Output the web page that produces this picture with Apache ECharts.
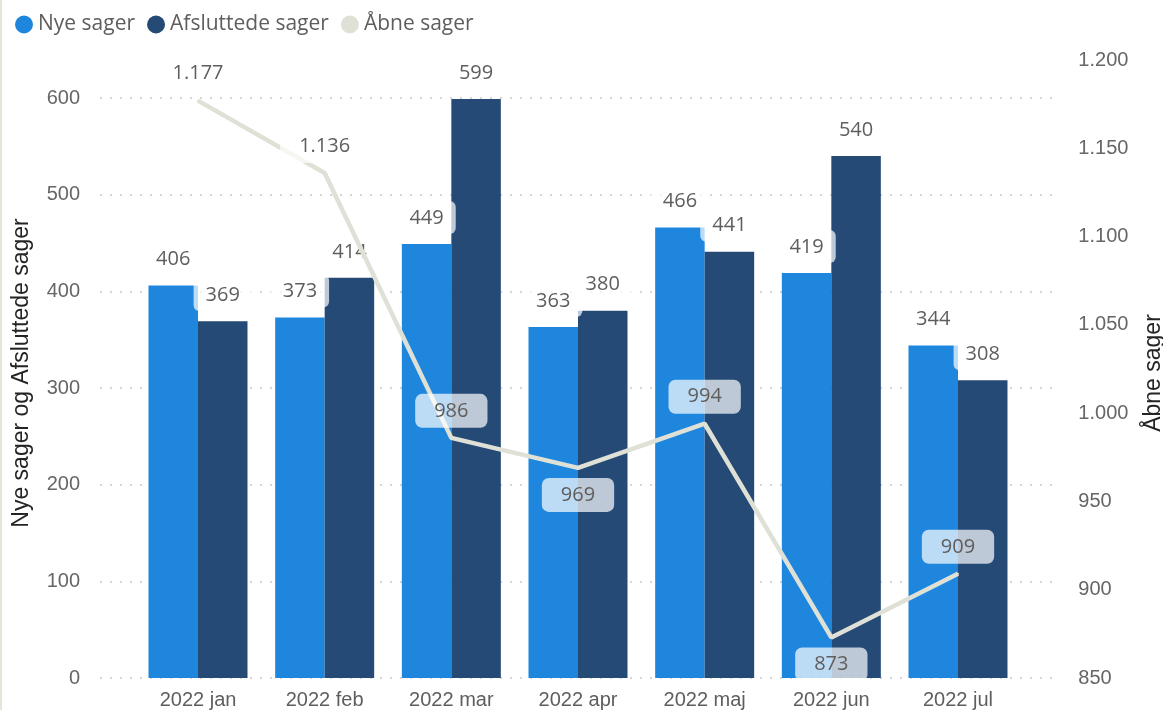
<!DOCTYPE html>
<html>
<head>
<meta charset="utf-8">
<script src="https://cdn.jsdelivr.net/npm/echarts@6/dist/echarts.min.js"></script>
<style>
html,body{margin:0;padding:0;background:#fff;}
#chart{width:1163px;height:710px;}
</style>
</head>
<body>
<div id="chart"></div>
<script>
// ---- data ----
var categories = ['2022 jan', '2022 feb', '2022 mar', '2022 apr', '2022 maj', '2022 jun', '2022 jul'];
var nyeSager = [406, 373, 449, 363, 466, 419, 344];
var afsluttedeSager = [369, 414, 599, 380, 441, 540, 308];
var aabneSager = [1177, 1136, 986, 969, 994, 873, 909];
var leftTicks = { min: 0, max: 600, interval: 100 };
var rightTicks = { min: 850, max: 1200, interval: 50 };

// label placement for the line (style, not data)
var lineLabelPlacement = ['top', 'top', 'top', 'bottom', 'top', 'bottom', 'top'];

function fmt(v) {
  return String(v).replace(/\B(?=(\d{3})+(?!\d))/g, '.');
}

var cNye = '#1E86DD';
var cAfs = '#244A75';
var cAab = '#DFE1D6';
var labelFont = '"Open Sans", "Noto Sans", sans-serif';
var axisFont = '"Liberation Sans", Arial, sans-serif';

var chart = echarts.init(document.getElementById('chart'), null, { renderer: 'canvas' });

var barLabel = {
  show: true,
  position: 'top',
  distance: 10,
  fontFamily: labelFont,
  fontSize: 20,
  lineHeight: 22,
  color: '#605E5C',
  backgroundColor: 'rgba(255,255,255,0.7)',
  borderRadius: 6,
  padding: [6, 12, 5, 12],
  formatter: function (p) { return fmt(p.value); }
};

var lineData = aabneSager.map(function (v, i) {
  return {
    value: v,
    label: { position: lineLabelPlacement[i] }
  };
});

var option = {
  animation: false,
  backgroundColor: '#ffffff',
  legend: {
    left: 10,
    top: 9,
    icon: 'circle',
    itemWidth: 18,
    itemHeight: 18,
    itemGap: 12,
    textStyle: { fontFamily: labelFont, fontSize: 21, color: '#605E5C' },
    data: ['Nye sager', 'Afsluttede sager', 'Åbne sager']
  },
  graphic: [
    { type: 'rect', left: 0, top: 0, shape: { width: 2, height: 710 }, style: { fill: '#E4E6DC' }, silent: true },
    {
      type: 'text', x: 22, y: 373, rotation: Math.PI / 2,
      style: { text: 'Nye sager og Afsluttede sager', fontFamily: axisFont, fontSize: 23, fill: '#252423', align: 'center', verticalAlign: 'middle' }
    },
    {
      type: 'text', x: 1154, y: 373, rotation: Math.PI / 2,
      style: { text: 'Åbne sager', fontFamily: axisFont, fontSize: 23, fill: '#252423', align: 'center', verticalAlign: 'middle' }
    }
  ],
  grid: [
    { left: 100, right: 106, top: 98, bottom: 32 },
    { left: 134.67, right: 141.67, top: 98, bottom: 32 },
    { left: 134.67, right: 141.67, top: 60, bottom: 32 }
  ],
  xAxis: [
    { gridIndex: 0, type: 'value', show: false, min: 0, max: 1 },
    {
      gridIndex: 1, type: 'category', data: categories,
      axisLine: { show: false }, axisTick: { show: false },
      axisLabel: { fontFamily: axisFont, fontSize: 20, color: '#605E5C', margin: 12 }
    },
    { gridIndex: 2, type: 'category', data: categories, show: false }
  ],
  yAxis: [
    {
      gridIndex: 0, type: 'value', min: leftTicks.min, max: leftTicks.max, interval: leftTicks.interval,
      axisLine: { show: false }, axisTick: { show: false },
      axisLabel: { fontFamily: axisFont, fontSize: 20, color: '#666666', margin: 20 },
      splitLine: { show: true, lineStyle: { color: '#C8C8C8', width: 1.5, type: [2, 8] } }
    },
    { gridIndex: 1, type: 'value', min: leftTicks.min, max: leftTicks.max, show: false },
    {
      gridIndex: 2, type: 'value', position: 'right',
      min: rightTicks.min, max: rightTicks.max, interval: rightTicks.interval,
      axisLine: { show: false }, axisTick: { show: false },
      splitLine: { show: false },
      axisLabel: { fontFamily: axisFont, fontSize: 20, color: '#666666', margin: 57, formatter: function (v) { return fmt(v); } }
    }
  ],
  series: [
    {
      name: 'Nye sager', type: 'bar', xAxisIndex: 1, yAxisIndex: 1,
      data: nyeSager, barWidth: 49.5, barGap: '0%',
      itemStyle: { color: cNye },
      label: barLabel,
      emphasis: { disabled: true },
      z: 2
    },
    {
      name: 'Afsluttede sager', type: 'bar', xAxisIndex: 1, yAxisIndex: 1,
      data: afsluttedeSager, barWidth: 49.5, barGap: '0%',
      itemStyle: { color: cAfs },
      label: barLabel,
      emphasis: { disabled: true },
      z: 2
    },
    {
      name: 'Åbne sager', type: 'line', xAxisIndex: 2, yAxisIndex: 2,
      data: lineData,
      symbol: 'circle', symbolSize: 2, showSymbol: true,
      lineStyle: { color: cAab, width: 4.5 },
      itemStyle: { color: cAab },
      label: {
        show: true,
        distance: 9,
        fontFamily: labelFont,
        fontSize: 20,
        lineHeight: 22,
        color: '#605E5C',
        backgroundColor: 'rgba(255,255,255,0.7)',
        borderRadius: 7,
        padding: [6, 19, 6, 19],
        formatter: function (p) { return fmt(p.value); }
      },
      emphasis: { disabled: true },
      z: 4
    }
  ]
};

chart.setOption(option);
</script>
</body>
</html>
